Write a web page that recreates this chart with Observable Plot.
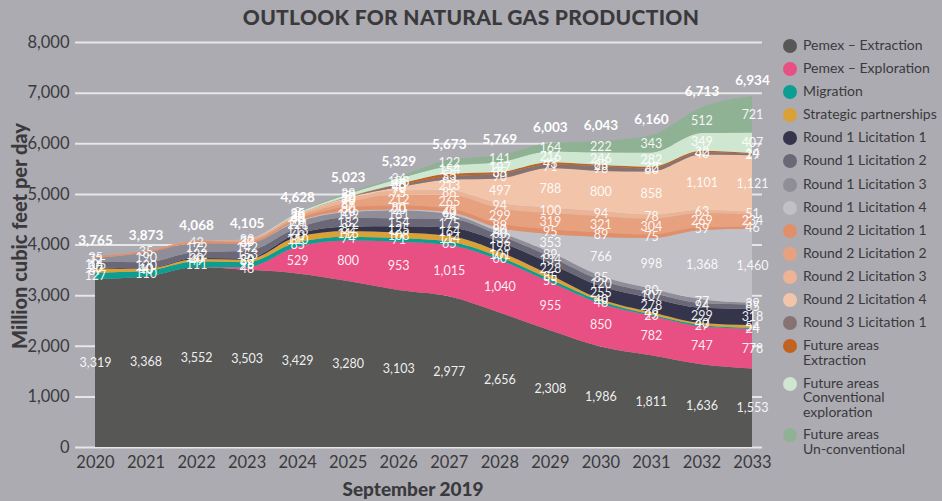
<!DOCTYPE html>
<html>
<head>
<meta charset="utf-8">
<script src="https://cdn.jsdelivr.net/npm/d3@7"></script>
<script src="https://cdn.jsdelivr.net/npm/@observablehq/plot@0.6"></script>
<style>
  html, body { margin: 0; padding: 0; }
  body { width: 942px; height: 501px; background: #acabb2; position: relative; overflow: hidden; font-family: Lato, "Open Sans", sans-serif; color: #3a3a3c; }
  #title { position: absolute; top: 4px; left: 0; width: 942px; text-align: center; font-weight: 900; font-size: 21px; letter-spacing: 0.3px; color: #3a3a3c; }
  #chart { position: absolute; left: 0; top: 0; }
  #ylabel { position: absolute; left: 19px; top: 236px; transform: translate(-50%, -50%) rotate(-90deg); white-space: nowrap; font-weight: 900; font-size: 20px; color: #3a3a3c; }
  #xlabel { position: absolute; left: 413px; top: 477px; transform: translateX(-50%); white-space: nowrap; font-weight: 900; font-size: 19px; color: #3a3a3c; }
  #legend { position: absolute; left: 783px; top: 38px; }
  .item { display: flex; align-items: flex-start; margin-bottom: 8.1px; }
  .sw { width: 14px; height: 14px; border-radius: 50%; flex: none; margin-right: 6px; margin-top: 1px; }
  .lab { font-size: 14px; line-height: 14.6px; color: #3a3a3c; }
</style>
</head>
<body>
<div id="title">OUTLOOK FOR NATURAL GAS PRODUCTION</div>
<div id="chart"></div>
<div id="ylabel">Million cubic feet per day</div>
<div id="xlabel">September 2019</div>
<div id="legend"></div>
<script>
const years = [2020, 2021, 2022, 2023, 2024, 2025, 2026, 2027, 2028, 2029, 2030, 2031, 2032, 2033];
const totals = [3765, 3873, 4068, 4105, 4628, 5023, 5329, 5673, 5769, 6003, 6043, 6160, 6713, 6934];

const seriesNames = [
  "Pemex – Extraction", "Pemex – Exploration", "Migration", "Strategic partnerships",
  "Round 1 Licitation 1", "Round 1 Licitation 2", "Round 1 Licitation 3", "Round 1 Licitation 4",
  "Round 2 Licitation 1", "Round 2 Licitation 2", "Round 2 Licitation 3", "Round 2 Licitation 4",
  "Round 3 Licitation 1", "Future areas\nExtraction", "Future areas\nConventional\nexploration", "Future areas\nUn-conventional"
];
const seriesColors = [
  "#575756", "#e84f82", "#0c9e90", "#d9a136",
  "#34344a", "#6a6877", "#8f8d98", "#c1c0c6",
  "#e28f69", "#e8a17f", "#ecb394", "#f2c5aa",
  "#877272", "#c1621f", "#cfe7d1", "#8fb295"
];

const pemexExtraction  = [3319, 3368, 3552, 3503, 3429, 3280, 3103, 2977, 2656, 2308, 1986, 1811, 1636, 1553];
const pemexExploration = [0, 0, 0, 48, 529, 800, 953, 1015, 1040, 955, 850, 782, 747, 778];
const migration        = [127, 110, 111, 98, 85, 74, 71, 65, 60, 55, 48, 23, 27, 24];
const strategic        = [87, 40, 49, 52, 110, 115, 108, 114, 101, 85, 40, 49, 40, 54];
const r1l1             = [20, 10, 20, 20, 60, 82, 125, 164, 198, 228, 255, 278, 299, 318];
const r1l2             = [105, 120, 122, 153, 113, 182, 154, 175, 132, 134, 120, 107, 94, 85];
const r1l3             = [72, 190, 172, 142, 121, 109, 161, 94, 60, 89, 85, 80, 77, 39];
const r1l4             = [0, 0, 0, 0, 20, 20, 20, 40, 80, 353, 766, 998, 1368, 1460];
const r2l1             = [35, 35, 42, 37, 40, 80, 80, 73, 89, 95, 89, 75, 59, 46];
const r2l2             = [0, 0, 0, 30, 38, 87, 212, 265, 299, 319, 321, 304, 269, 234];
const r2l3             = [0, 0, 0, 22, 30, 70, 75, 86, 94, 100, 94, 78, 63, 51];
const r2l4             = [0, 0, 0, 0, 20, 30, 70, 213, 497, 788, 800, 858, 1101, 1121];
const r3l1             = [0, 0, 0, 0, 0, 10, 40, 63, 90, 71, 98, 60, 40, 29];
const futureExtraction = [0, 0, 0, 0, 0, 5, 20, 53, 35, 43, 23, 32, 32, 14];
const futureConv       = [0, 0, 0, 0, 25, 50, 103, 154, 197, 216, 246, 282, 349, 407];
const futureUnconv     = [0, 0, 0, 0, 8, 29, 34, 122, 141, 164, 222, 343, 512, 721];

const yTicks = [0, 1000, 2000, 3000, 4000, 5000, 6000, 7000, 8000];

const seriesValues = [pemexExtraction, pemexExploration, migration, strategic, r1l1, r1l2, r1l3, r1l4,
  r2l1, r2l2, r2l3, r2l4, r3l1, futureExtraction, futureConv, futureUnconv];

const data = [];
seriesNames.forEach((s, i) => years.forEach((yr, j) => data.push({series: s, year: yr, value: seriesValues[i][j]})));
const totalData = years.map((yr, j) => ({year: yr, total: totals[j]}));

const fmt = d3.format(",");

const chart = Plot.plot({
  width: 782,
  height: 501,
  marginTop: 42,
  marginBottom: 54,
  marginLeft: 95,
  marginRight: 30,
  style: {background: "transparent", fontFamily: "Lato, 'Open Sans', sans-serif", overflow: "visible"},
  x: {domain: [2020, 2033], ticks: years, tickFormat: d => String(d)},
  y: {domain: [0, 8000], ticks: yTicks, tickFormat: fmt},
  color: {domain: seriesNames, range: seriesColors},
  marks: [
    Plot.ruleY(yTicks, {stroke: "#ffffff", strokeWidth: 2, strokeOpacity: 0.7, insetLeft: -20, insetRight: -10}),
    Plot.areaY(data, {x: "year", y: "value", fill: "series", z: "series", order: seriesNames, curve: "monotone-x"}),
    Plot.text(data, Plot.stackY({x: "year", y: "value", z: "series", order: seriesNames,
      filter: d => d.value > 0, text: d => fmt(d.value), fill: "white", fontSize: 12.5, fillOpacity: 0.92})),
    Plot.text(totalData, {x: "year", y: "total", text: d => fmt(d.total), dy: -16, fill: "white", fontWeight: "bold", fontSize: 13.5}),
    Plot.axisX({ticks: years, tickFormat: d => String(d), tickSize: 0, tickPadding: 9, fontSize: 16.5, label: null, fill: "#3a3a3c"}),
    Plot.axisY({ticks: yTicks, tickFormat: fmt, tickSize: 0, tickPadding: 26, fontSize: 16.5, label: null, fill: "#3a3a3c"})
  ]
});
document.getElementById("chart").appendChild(chart);

const legend = document.getElementById("legend");
seriesNames.forEach((s, i) => {
  const item = document.createElement("div");
  item.className = "item";
  const sw = document.createElement("div");
  sw.className = "sw";
  sw.style.background = seriesColors[i];
  const lab = document.createElement("div");
  lab.className = "lab";
  lab.innerHTML = s.split("\n").join("<br>");
  item.appendChild(sw);
  item.appendChild(lab);
  legend.appendChild(item);
});
</script>
</body>
</html>
